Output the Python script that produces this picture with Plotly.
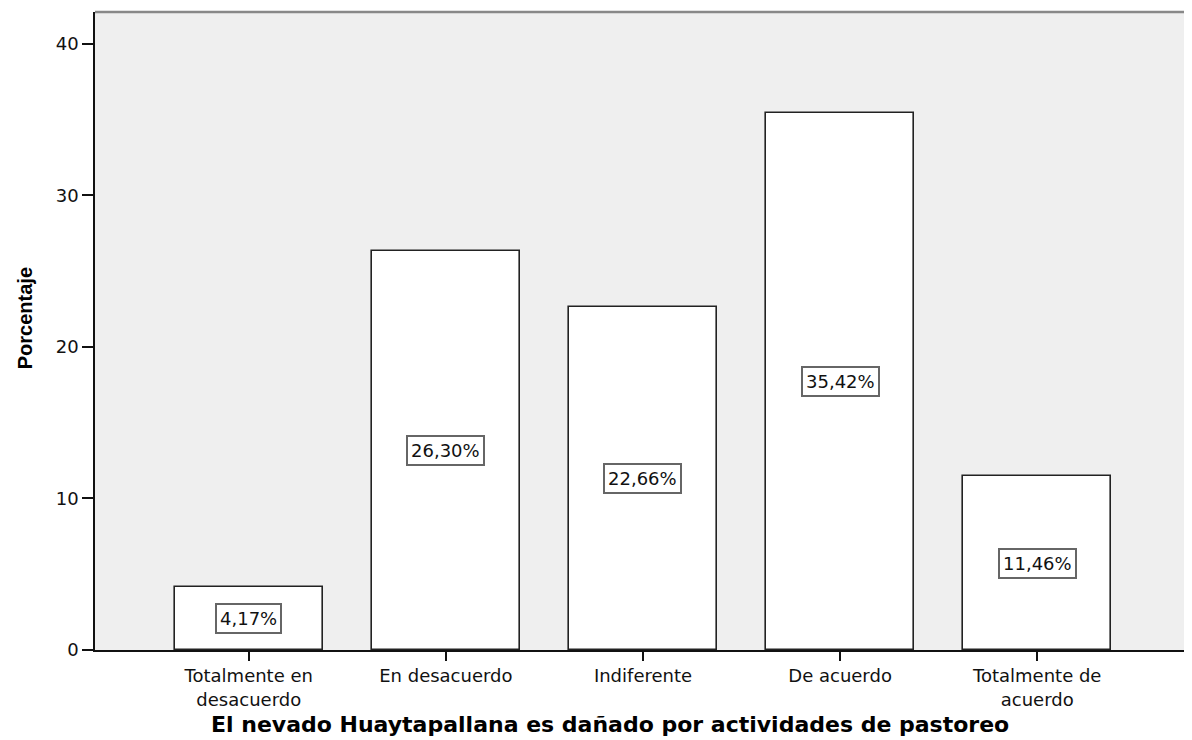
import plotly.graph_objects as go

categories = ["Totalmente en<br>desacuerdo", "En desacuerdo", "Indiferente", "De acuerdo", "Totalmente de<br>acuerdo"]
values = [4.17, 26.30, 22.66, 35.42, 11.46]
labels = ["4,17%", "26,30%", "22,66%", "35,42%", "11,46%"]
y_ticks = [0, 10, 20, 30, 40]

xs = list(range(len(categories)))

fig = go.Figure()
fig.add_trace(go.Bar(
    x=xs, y=values, width=0.75,
    marker=dict(color="white", line=dict(color="#222222", width=1.6)),
    hoverinfo="skip",
))

for xi, v, lab in zip(xs, values, labels):
    fig.add_annotation(
        x=xi, y=v / 2, xref="x", yref="y", text=lab, showarrow=False,
        font=dict(family="DejaVu Sans", size=18, color="#111111"),
        bgcolor="white", bordercolor="#666666", borderwidth=2, borderpad=3,
    )

fig.add_annotation(
    x=0.4705, y=-0.117, xref="paper", yref="paper",
    text="<b>El nevado Huaytapallana es dañado por actividades de pastoreo</b>",
    showarrow=False, xanchor="center", yanchor="middle",
    font=dict(family="DejaVu Sans", size=22, color="#000000"),
)
fig.add_annotation(
    x=-0.064, y=0.52, xref="paper", yref="paper",
    text="<b>Porcentaje</b>", textangle=-90,
    showarrow=False, xanchor="center", yanchor="middle",
    font=dict(family="Liberation Sans", size=20, color="#000000"),
)

fig.update_layout(
    width=1184, height=732,
    margin=dict(l=87, r=3, t=4, b=90),
    paper_bgcolor="white", plot_bgcolor="#efefef",
    showlegend=False,
    bargap=0,
    shapes=[
        dict(type="line", xref="paper", yref="paper", x0=0, y0=1, x1=1, y1=1,
             line=dict(color="#888888", width=2.5), layer="above"),
        dict(type="line", xref="paper", yref="paper", x0=1, y0=0, x1=1, y1=1,
             line=dict(color="#888888", width=2), layer="above"),
    ],
)
fig.update_xaxes(
    range=[-0.78, 4.77], tickmode="array", tickvals=xs, ticktext=categories,
    showgrid=False, zeroline=False, showline=True, linecolor="#111111", linewidth=1.6,
    ticks="outside", ticklen=9, tickcolor="#111111", tickwidth=1.6,
    tickfont=dict(family="DejaVu Sans", size=18, color="#111111"),
)
fig.update_yaxes(
    range=[0, 42.1], tickmode="array", tickvals=y_ticks, ticktext=[str(t) for t in y_ticks],
    showgrid=False, zeroline=False, showline=True, linecolor="#111111", linewidth=1.6,
    ticks="outside", ticklen=11, tickcolor="#111111", tickwidth=1.6,
    tickfont=dict(family="DejaVu Sans", size=18, color="#111111"),
)

fig.write_html("out.html")
